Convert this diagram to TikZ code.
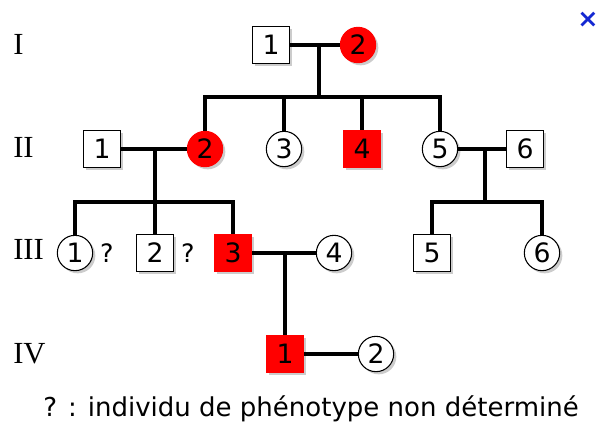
\documentclass[tikz,border=0pt]{standalone}
\usepackage{fontspec}
\setmainfont{DejaVu Sans}
\newfontfamily\genfont{Liberation Serif}
\usepackage{tikz}
\usetikzlibrary{shapes.geometric, positioning, calc, shadows}
\definecolor{colorAff}{RGB}{255, 0, 0}
\definecolor{colorClose}{RGB}{20, 40, 210}
\tikzstyle{male} = [rectangle, minimum size=28pt, inner sep=0pt, draw=black, line width=0.8pt, fill=white, font=\fontsize{20}{20}\selectfont, drop shadow={shadow xshift=2pt, shadow yshift=-2pt, opacity=0.4}]
\tikzstyle{female} = [circle, minimum size=26.5pt, inner sep=0pt, draw=black, line width=0.8pt, fill=white, font=\fontsize{20}{20}\selectfont, drop shadow={shadow xshift=2pt, shadow yshift=-2pt, opacity=0.4}]
\tikzstyle{affected} = [fill=colorAff, draw=colorAff]
\tikzstyle{gen} = [anchor=west, inner sep=0pt, font=\genfont\fontsize{23}{23}\selectfont]
\tikzstyle{unknown} = [inner sep=0pt, font=\fontsize{19}{19}\selectfont]
\tikzstyle{line} = [line width=2.6pt]

\begin{document}
\begin{tikzpicture}[x=0.75pt, y=-0.75pt]

		\useasboundingbox (0,0) rectangle (598,432);

		% generations
		\node (gI)[gen] at (13,44) {I};
		\node (gII)[gen] at (13,147) {II};
		\node (gIII)[gen] at (13,249) {III};
		\node (gIV)[gen] at (13,354) {IV};

		% generation I
		\node (I1)[male] at (271,45) {1};
		\node (I2)[female, affected] at (358,45) {2};

		% generation II
		\node (II1)[male] at (102,149) {1};
		\node (II2)[female, affected] at (205,149) {2};
		\node (II3)[female] at (284,149) {3};
		\node (II4)[male, affected] at (362,149) {4};
		\node (II5)[female] at (440,149) {5};
		\node (II6)[male] at (525,149) {6};

		% generation III
		\node (III1)[female] at (75,253) {1};
		\node (qIII1)[unknown, right=5pt of III1] {?};
		\node (III2)[male] at (155,253) {2};
		\node (qIII2)[unknown, right=5pt of III2] {?};
		\node (III3)[male, affected] at (233,253) {3};
		\node (III4)[female] at (334,253) {4};
		\node (III5)[male] at (432,253) {5};
		\node (III6)[female] at (542,253) {6};

		% generation IV
		\node (IV1)[male, affected] at (285,354) {1};
		\node (IV2)[female] at (376,354) {2};

		% legend
		\node (legend)[font=\fontsize{19.5}{19.5}\selectfont] at (311,409) {? : individu de phénotype non déterminé};
		\node (close)[text=colorClose, font=\bfseries\fontsize{19}{19}\selectfont, inner sep=0pt] at (588,20) {×};

		% unions and sibships
		\coordinate (mI) at (319,45);
		\coordinate (sI) at (319,97);
		\coordinate (mII) at (155,149);
		\coordinate (sII) at (155,202);
		\coordinate (mII5) at (485,149);
		\coordinate (sII5) at (485,202);
		\coordinate (mIII) at (285,253);

		% lines
		\draw[line](I1) -- (I2);
		\draw[line](mI) -- (sI);
		\draw[line](II2) |- (sI) -| (II5);
		\draw[line](II3) -- (II3 |- sI);
		\draw[line](II4) -- (II4 |- sI);

		\draw[line](II1) -- (II2);
		\draw[line](mII) -- (sII);
		\draw[line](III1) |- (sII) -| (III3);
		\draw[line](III2) -- (III2 |- sII);

		\draw[line](II5) -- (II6);
		\draw[line](mII5) -- (sII5);
		\draw[line](III5) |- (sII5) -| (III6);

		\draw[line](III3) -- (III4);
		\draw[line](mIII) -- (IV1);

		\draw[line](IV1) -- (IV2);

	\end{tikzpicture}
\end{document}
